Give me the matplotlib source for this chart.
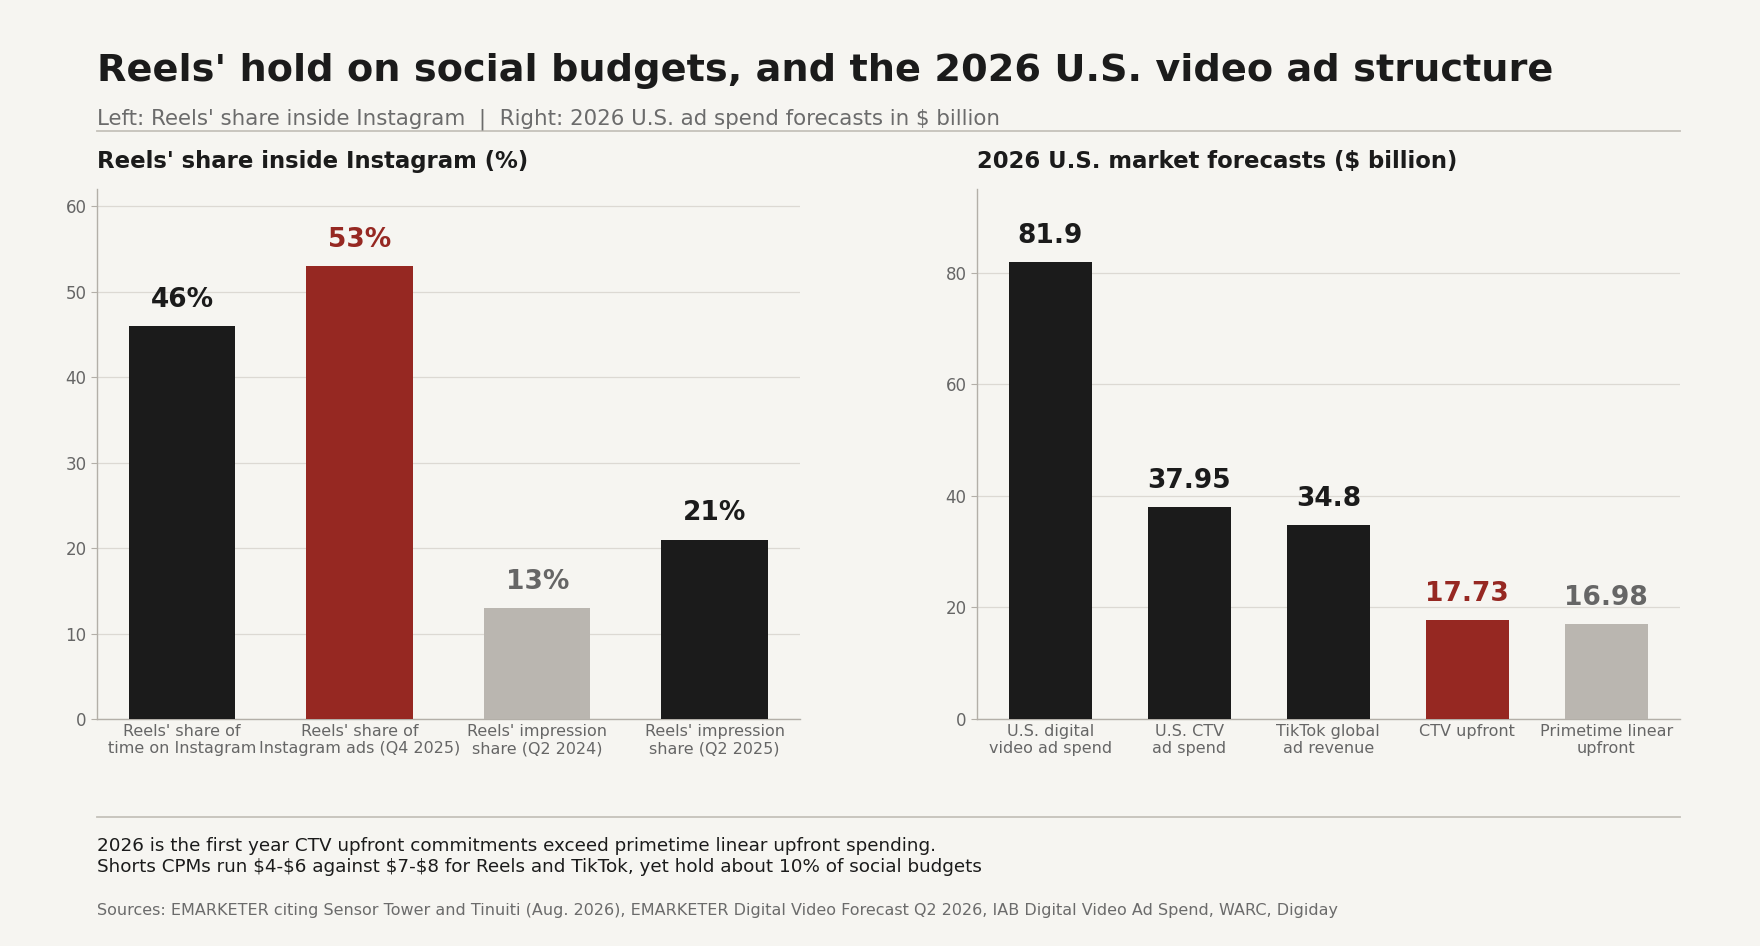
import matplotlib
matplotlib.use("Agg")
import matplotlib.pyplot as plt

# --- data ---
left_labels = ["Reels' share of\ntime on Instagram", "Reels' share of\nInstagram ads (Q4 2025)",
               "Reels' impression\nshare (Q2 2024)", "Reels' impression\nshare (Q2 2025)"]
left_values = [46, 53, 13, 21]
left_kinds = ["dark", "accent", "muted", "dark"]

right_labels = ["U.S. digital\nvideo ad spend", "U.S. CTV\nad spend", "TikTok global\nad revenue",
                "CTV upfront", "Primetime linear\nupfront"]
right_values = [81.9, 37.95, 34.8, 17.73, 16.98]
right_kinds = ["dark", "dark", "dark", "accent", "muted"]

BG = "#f6f5f1"
bar_col = {"dark": "#1b1b1b", "accent": "#962822", "muted": "#bab6b0"}
lab_col = {"dark": "#1b1b1b", "accent": "#962822", "muted": "#666666"}
GRID = "#dcd9d3"
SPINE = "#b3afa8"
TICK = "#666666"

plt.rcParams['font.family'] = ['DejaVu Sans']
plt.rcParams['text.parse_math'] = False

fig = plt.figure(figsize=(17.6, 9.46), dpi=100, facecolor=BG)

ax1 = fig.add_axes([0.0551, 0.240, 0.3994, 0.560])
ax2 = fig.add_axes([0.5550, 0.240, 0.3995, 0.560])


def draw_panel(ax, labels, values, kinds, fmt, ymax, yticks):
    ax.set_facecolor(BG)
    x = list(range(len(values)))
    ax.bar(x, values, width=0.6, color=[bar_col[k] for k in kinds], zorder=3)
    for xi, v, k in zip(x, values, kinds):
        ax.annotate(fmt(v), (xi, v), xytext=(0, 9.5), textcoords="offset points",
                    ha="center", va="bottom", fontsize=19, fontweight="bold",
                    color=lab_col[k])
    ax.set_ylim(0, ymax)
    ax.set_yticks(yticks)
    ax.set_xticks(x)
    ax.set_xticklabels(labels)
    ax.grid(axis="y", color=GRID, linewidth=0.9, zorder=0)
    ax.set_axisbelow(True)
    for s in ["top", "right"]:
        ax.spines[s].set_visible(False)
    for s in ["left", "bottom"]:
        ax.spines[s].set_color(SPINE)
        ax.spines[s].set_linewidth(1.0)
    ax.tick_params(axis="x", length=0, pad=3.5, labelsize=11.5, labelcolor=TICK)
    ax.tick_params(axis="y", length=4, color=SPINE, labelsize=12, labelcolor=TICK)


draw_panel(ax1, left_labels, left_values, left_kinds, lambda v: f"{v:g}%", 62, [0, 10, 20, 30, 40, 50, 60])
draw_panel(ax2, right_labels, right_values, right_kinds, lambda v: f"{v:g}", 95, [0, 20, 40, 60, 80])

# titles
fig.text(0.0551, 0.914, "Reels' hold on social budgets, and the 2026 U.S. video ad structure",
         fontsize=27.5, fontweight="bold", color="#1b1b1b", va="baseline")
fig.text(0.0551, 0.868, "Left: Reels' share inside Instagram  |  Right: 2026 U.S. ad spend forecasts in $ billion",
         fontsize=15.4, color="#6b6b6b", va="baseline")
fig.add_artist(plt.Line2D([0.0551, 0.9545], [0.8615, 0.8615], color="#c5c1ba", linewidth=1.3))

fig.text(0.0551, 0.8224, "Reels' share inside Instagram (%)", fontsize=16.4, fontweight="bold",
         color="#1b1b1b", va="baseline")
fig.text(0.5550, 0.8224, "2026 U.S. market forecasts ($ billion)", fontsize=16.4, fontweight="bold",
         color="#1b1b1b", va="baseline")

# footer
fig.add_artist(plt.Line2D([0.0551, 0.9545], [0.1364, 0.1364], color="#c5c1ba", linewidth=1.3))
fig.text(0.0551, 0.1005, "2026 is the first year CTV upfront commitments exceed primetime linear upfront spending.",
         fontsize=13.2, color="#1b1b1b", va="baseline")
fig.text(0.0551, 0.078, "Shorts CPMs run $4-$6 against $7-$8 for Reels and TikTok, yet hold about 10% of social budgets",
         fontsize=13.2, color="#1b1b1b", va="baseline")
fig.text(0.0551, 0.0328, "Sources: EMARKETER citing Sensor Tower and Tinuiti (Aug. 2026), EMARKETER Digital Video Forecast Q2 2026, IAB Digital Video Ad Spend, WARC, Digiday",
         fontsize=11.5, color="#6b6b6b", va="baseline")

fig.savefig("out.png", dpi=100, facecolor=BG)
